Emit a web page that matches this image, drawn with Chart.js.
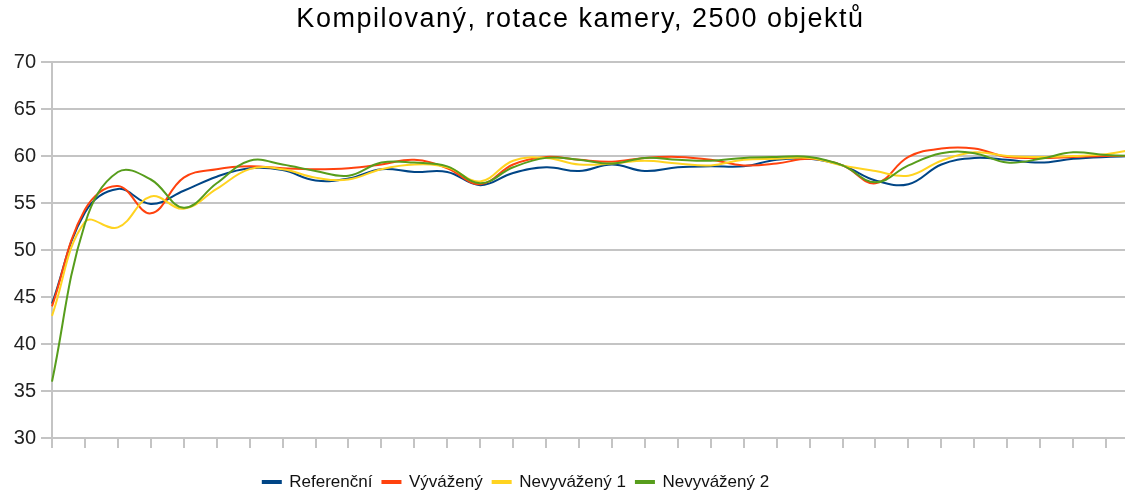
<!DOCTYPE html>
<html><head><meta charset="utf-8">
<script src="https://cdn.jsdelivr.net/npm/chart.js@4/dist/chart.umd.min.js"></script>
<style>
html,body{margin:0;padding:0;background:#fff;overflow:hidden}
#wrap{width:1125px;height:493px;overflow:hidden;position:relative}
canvas{display:block}
</style></head>
<body><div id="wrap"><canvas id="c" width="1160" height="493"></canvas></div>
<script>
const titleText = 'Kompilovaný, rotace kamery, 2500 objektů';
const categories = ['1','2','3','4','5','6','7','8','9','10','11','12','13','14','15','16','17','18','19','20','21','22','23','24','25','26','27','28','29','30','31','32','33','34'];
const seriesNames = ['Referenční', 'Vývážený', 'Nevyvážený 1', 'Nevyvážený 2'];
const referencni = [44.3, 54.0, 56.5, 54.9, 56.3, 57.8, 58.7, 58.5, 57.4, 57.6, 58.6, 58.3, 58.3, 56.9, 58.2, 58.8, 58.4, 59.1, 58.4, 58.8, 58.9, 58.9, 59.6, 59.7, 59.0, 57.4, 57.0, 59.1, 59.8, 59.6, 59.3, 59.7, 59.9, 60.0];
const vyvazeny = [44.0, 54.3, 56.8, 53.9, 57.7, 58.6, 58.9, 58.7, 58.6, 58.7, 59.1, 59.6, 58.7, 57.0, 59.1, 59.9, 59.6, 59.4, 59.8, 59.9, 59.6, 59.0, 59.2, 59.7, 59.0, 57.1, 59.9, 60.8, 60.8, 59.9, 59.8, 59.9, 60.0, 60.0];
const nevyvazeny1 = [43.0, 53.0, 52.4, 55.7, 54.4, 56.5, 58.6, 58.6, 57.7, 57.5, 58.6, 59.1, 58.8, 57.3, 59.5, 59.8, 59.1, 59.2, 59.5, 59.2, 59.0, 59.6, 59.7, 59.8, 59.0, 58.4, 57.9, 59.5, 60.4, 60.0, 59.9, 60.0, 60.2, 60.8];
const nevyvazeny2 = [36.0, 52.8, 58.3, 57.5, 54.5, 57.1, 59.5, 59.1, 58.4, 57.9, 59.3, 59.3, 58.9, 57.1, 58.8, 59.8, 59.6, 59.2, 59.8, 59.6, 59.5, 59.8, 59.9, 59.9, 59.0, 57.2, 59.0, 60.3, 60.3, 59.3, 59.7, 60.4, 60.1, 60.0];
const yMin = 30, yMax = 70, yStep = 5;

const colors = ['#004586', '#ff420e', '#ffd320', '#579d1c'];
const seriesData = [referencni, vyvazeny, nevyvazeny1, nevyvazeny2];
const gridColor = '#c4c4c4';

Chart.defaults.font.family = "'Liberation Sans', Arial, sans-serif";

const boxShift = {
  id: 'boxShift',
  afterLayout(chart) {
    const l = chart.legend;
    if (l) { l.left -= 53.5; l.right -= 53.5; l.top += 7.5; l.bottom += 7.5; }
    const t = chart.titleBlock;
    if (t) {
      t.left += 11; t.right += 11;
      if (!t._spaced) {
        const orig = t.draw.bind(t);
        t.draw = function () {
          const ctx = chart.ctx;
          ctx.save();
          ctx.letterSpacing = '1.5px';
          orig();
          ctx.restore();
        };
        t._spaced = true;
      }
    }
  }
};

new Chart(document.getElementById('c'), {
  type: 'line',
  data: {
    labels: categories,
    datasets: seriesData.map((d, i) => ({
      label: seriesNames[i],
      data: d,
      borderColor: colors[i],
      backgroundColor: colors[i],
      borderWidth: 2,
      pointRadius: 0,
      tension: 0.4,
      fill: false,
      order: 3 - i
    }))
  },
  options: {
    responsive: false,
    animation: false,
    layout: { padding: { left: 0, right: 21, top: 0, bottom: 0 } },
    plugins: {
      title: {
        display: true,
        text: titleText,
        color: '#000',
        font: { size: 27, weight: 'normal' },
        padding: { top: 3.3, bottom: 26.3 }
      },
      legend: {
        position: 'bottom',
        labels: {
          boxWidth: 18,
          boxHeight: 2,
          padding: 10,
          color: '#111',
          font: { size: 17 },
          sort: (a, b) => a.datasetIndex - b.datasetIndex
        }
      },
      tooltip: { enabled: false }
    },
    scales: {
      x: {
        offset: false,
        grid: { display: true, drawOnChartArea: false, drawTicks: true, tickLength: 10, color: gridColor, lineWidth: 2 },
        border: { display: true, color: gridColor, width: 2 },
        ticks: { display: false },
        afterFit: (s) => { s.height = 18; }
      },
      y: {
        min: yMin, max: yMax,
        grid: { color: gridColor, lineWidth: 2, tickLength: 11 },
        border: { display: true, color: gridColor, width: 2 },
        ticks: { stepSize: yStep, color: '#222', font: { size: 20 }, padding: 5 },
        afterFit: (s) => { s.width = 52; }
      }
    }
  },
  plugins: [boxShift]
});
</script>
</body></html>
